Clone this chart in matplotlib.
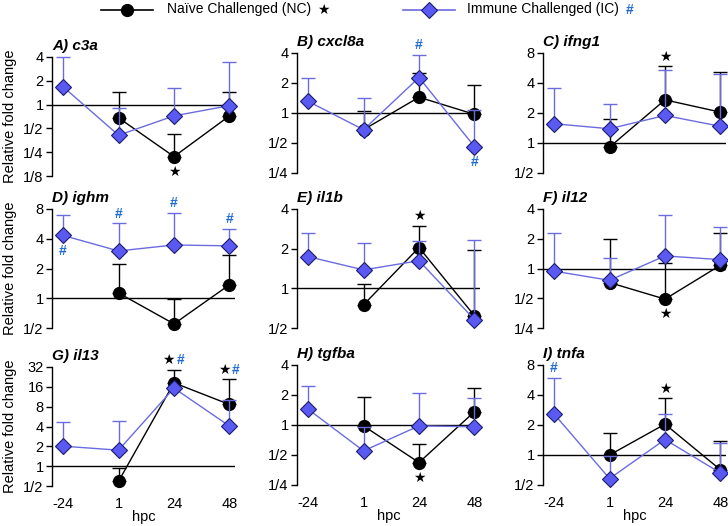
import matplotlib
matplotlib.use("Agg")
import matplotlib.pyplot as plt
from matplotlib.lines import Line2D
import numpy as np

plt.rcParams['font.family'] = ['Liberation Sans', 'DejaVu Sans']

# ---------------- data ----------------
times = ["-24", "1", "24", "48"]
genes = ["A) c3a", "B) cxcl8a", "C) ifng1",
         "D) ighm", "E) il1b", "F) il12",
         "G) il13", "H) tgfba", "I) tnfa"]

# fold change (NaN = no value); upper error bar tops
nc_c3a = [np.nan, 0.68, 0.22, 0.72];   nc_c3a_err = [np.nan, 1.43, 0.42, 1.43]
ic_c3a = [1.68, 0.41, 0.72, 0.97];     ic_c3a_err = [4.0, 0.91, 1.64, 3.46]

nc_cxcl8a = [np.nan, 0.68, 1.44, 0.97]; nc_cxcl8a_err = [np.nan, 1.05, 2.53, 1.92]
ic_cxcl8a = [1.31, 0.68, 2.27, 0.46];   ic_cxcl8a_err = [2.27, 1.42, 3.84, 1.06]

nc_ifng1 = [np.nan, 0.91, 2.71, 2.04];  nc_ifng1_err = [np.nan, 1.75, 5.9, 5.17]
ic_ifng1 = [1.56, 1.39, 1.89, 1.47];    ic_ifng1_err = [3.58, 2.45, 5.43, 4.96]

nc_ighm = [np.nan, 1.13, 0.55, 1.37];   nc_ighm_err = [np.nan, 2.22, 0.99, 2.73]
ic_ighm = [4.32, 3.01, 3.46, 3.39];     ic_ighm_err = [6.96, 5.74, 7.36, 5.03]

nc_il1b = [np.nan, 0.75, 2.04, 0.62];   nc_il1b_err = [np.nan, 1.08, 2.99, 1.96]
ic_il1b = [1.74, 1.38, 1.62, 0.58];     ic_il1b_err = [2.64, 2.2, 2.3, 2.33]

nc_il12 = [np.nan, 0.72, 0.49, 1.08];   nc_il12_err = [np.nan, 1.97, 1.13, 2.27]
ic_il12 = [0.94, 0.76, 1.34, 1.23];     ic_il12_err = [2.3, 1.27, 3.48, 2.64]

nc_il13 = [np.nan, 0.59, 18.4, 8.63];   nc_il13_err = [np.nan, 0.95, 29.2, 20.8]
ic_il13 = [2.01, 1.75, 15.3, 4.06];     ic_il13_err = [4.72, 4.89, 15.3, 9.99]

nc_tgfba = [np.nan, 0.98, 0.42, 1.36];  nc_tgfba_err = [np.nan, 1.92, 0.65, 2.33]
ic_tgfba = [1.44, 0.55, 0.98, 0.96];    ic_tgfba_err = [2.46, 0.96, 2.08, 1.88]

nc_tnfa = [np.nan, 1.0, 2.04, 0.71];    nc_tnfa_err = [np.nan, 1.67, 3.71, 1.39]
ic_tnfa = [2.58, 0.58, 1.43, 0.66];     ic_tnfa_err = [5.9, 0.97, 2.57, 1.33]

nc_all = [nc_c3a, nc_cxcl8a, nc_ifng1, nc_ighm, nc_il1b, nc_il12, nc_il13, nc_tgfba, nc_tnfa]
nc_err_all = [nc_c3a_err, nc_cxcl8a_err, nc_ifng1_err, nc_ighm_err, nc_il1b_err,
              nc_il12_err, nc_il13_err, nc_tgfba_err, nc_tnfa_err]
ic_all = [ic_c3a, ic_cxcl8a, ic_ifng1, ic_ighm, ic_il1b, ic_il12, ic_il13, ic_tgfba, ic_tnfa]
ic_err_all = [ic_c3a_err, ic_cxcl8a_err, ic_ifng1_err, ic_ighm_err, ic_il1b_err,
              ic_il12_err, ic_il13_err, ic_tgfba_err, ic_tnfa_err]

# y-range as log2 exponents
ylims = [(-3, 2), (-2, 2), (-1, 3), (-1, 3), (-1, 2), (-2, 2), (-1, 5), (-2, 2), (-1, 3)]

# significance marks: (panel, time index, series, symbol(s), where)
marks = [
    (0, 2, "NC", "star", "below"),
    (1, 2, "IC", "hash", "above"), (1, 3, "IC", "hash", "below"),
    (2, 2, "NC", "star", "above"),
    (3, 0, "IC", "hash", "below"), (3, 1, "IC", "hash", "above"),
    (3, 2, "IC", "hash", "above"), (3, 3, "IC", "hash", "above"),
    (4, 2, "NC", "star", "above"),
    (5, 2, "NC", "star", "below"),
    (6, 2, "NC", "both", "above"), (6, 3, "NC", "both", "above"),
    (7, 2, "NC", "star", "below"),
    (8, 0, "IC", "hash", "above"), (8, 2, "NC", "star", "above"),
]

# ---------------- style ----------------
W, H = 728, 526
col_left = [52, 297, 543]
ax_w = 183
rows_px = [[(57, 176), (53, 173), (53, 173)],
           [(209, 328), (209, 328), (209, 328)],
           [(367, 486), (365, 485), (365, 485)]]

ic_line = "#6b6be0"
ic_fill = "#5a5af2"
ic_edge = "#1c1c70"
hash_col = "#1f6ad6"


def label_for(e):
    if e >= 0:
        return str(2 ** e)
    return "1/" + str(2 ** (-e))


fig = plt.figure(figsize=(W / 100, H / 100), dpi=100)
x = np.arange(len(times))
axes = []
for i in range(9):
    r, c = divmod(i, 3)
    top, bot = rows_px[r][c]
    ax = fig.add_axes([col_left[c] / W, 1 - bot / H, ax_w / W, (bot - top) / H])
    axes.append(ax)
    ax.set_yscale('log', base=2)
    lo, hi = ylims[i]
    ax.set_ylim(2.0 ** lo, 2.0 ** hi)
    ax.set_xlim(-0.2, 3.1)
    ticks = list(range(lo, hi + 1))
    ax.set_yticks([2.0 ** t for t in ticks])
    ax.set_yticklabels([label_for(t) for t in ticks])
    ax.yaxis.set_minor_locator(matplotlib.ticker.NullLocator())
    ax.tick_params(axis='y', direction='out', length=4, width=1, pad=2, labelsize=10.5)
    for s in ['top', 'right', 'bottom']:
        ax.spines[s].set_visible(False)
    ax.spines['left'].set_linewidth(1)
    ax.axhline(1, color='black', lw=1, zorder=1)
    if r == 2:
        ax.set_xticks(x)
        ax.set_xticklabels(times)
        ax.tick_params(axis='x', length=0, pad=8, labelsize=10.5)
        ax.set_xlabel("hpc", fontsize=10.5, labelpad=-1)
    else:
        ax.set_xticks([])
    ax.set_facecolor('none')
    ax.text(0.0, 1.03, genes[i], transform=ax.transAxes, fontsize=11,
            fontweight='bold', fontstyle='italic', ha='left', va='bottom')

    nc = np.array(nc_all[i], float)
    nce = np.array(nc_err_all[i], float)
    ic = np.array(ic_all[i], float)
    ice = np.array(ic_err_all[i], float)

    # NC
    m = ~np.isnan(nc)
    ax.errorbar(x[m], nc[m], yerr=[np.zeros(m.sum()), nce[m] - nc[m]], fmt='none',
                ecolor='black', elinewidth=1, capsize=5, capthick=1, zorder=2, clip_on=False)
    ax.plot(x[m], nc[m], '-o', color='black', lw=1, ms=8.5, zorder=3, clip_on=False)
    # IC
    ax.errorbar(x, ic, yerr=[np.zeros(4), ice - ic], fmt='none',
                ecolor=ic_line, elinewidth=1, capsize=5, capthick=1, zorder=4, clip_on=False)
    ax.plot(x, ic, '-', color=ic_line, lw=1, zorder=4, clip_on=False)
    ax.plot(x, ic, 'D', mfc=ic_fill, mec=ic_edge, mew=0.8, ms=8, zorder=5, clip_on=False)

for (p, ti, ser, sym, where) in marks:
    ax = axes[p]
    if ser == "NC":
        val = nc_all[p][ti]; et = nc_err_all[p][ti]
    else:
        val = ic_all[p][ti]; et = ic_err_all[p][ti]
    if where == "above":
        yv, off = et, 7
    else:
        yv, off = val, -11
    if sym == "star":
        ax.annotate("★", (ti, yv), xytext=(0, off), textcoords='offset points',
                    ha='center', va='center', fontsize=10, color='black',
                    family=['DejaVu Sans'], annotation_clip=False)
    elif sym == "hash":
        ax.annotate("#", (ti, yv), xytext=(0, off), textcoords='offset points',
                    ha='center', va='center', fontsize=10, color=hash_col,
                    fontweight='bold', annotation_clip=False)
    else:
        ax.annotate("★", (ti, yv), xytext=(-4, off), textcoords='offset points',
                    ha='center', va='center', fontsize=10, color='black',
                    family=['DejaVu Sans'], annotation_clip=False)
        ax.annotate("#", (ti, yv), xytext=(4.5, off), textcoords='offset points',
                    ha='center', va='center', fontsize=10, color=hash_col,
                    fontweight='bold', annotation_clip=False)

# y labels per row
for r in range(3):
    top = rows_px[r][0][0]
    bot = rows_px[r][0][1]
    fig.text(10 / W, 1 - (top + bot) / 2 / H, "Relative fold change", rotation=90,
             ha='center', va='center', fontsize=10.5)

# legend
ly = 1 - 9.5 / H
fig.add_artist(Line2D([101 / W, 153 / W], [ly, ly], color='black', lw=1.2,
                      transform=fig.transFigure))
fig.add_artist(Line2D([127 / W], [ly], marker='o', color='black', ms=8.5,
                      transform=fig.transFigure))
fig.text(167 / W, ly, "Naïve Challenged (NC)", ha='left', va='center', fontsize=10)
fig.text(323 / W, ly, "★", ha='center', va='center', fontsize=10, family=['DejaVu Sans'])
fig.add_artist(Line2D([403 / W, 455 / W], [ly, ly], color=ic_line, lw=1.2,
                      transform=fig.transFigure))
fig.add_artist(Line2D([429 / W], [ly], marker='D', mfc=ic_fill, mec=ic_edge, mew=0.8,
                      ms=8, transform=fig.transFigure))
fig.text(467 / W, ly, "Immune Challenged (IC)", ha='left', va='center', fontsize=10)
fig.text(630 / W, ly, "#", ha='center', va='center', fontsize=10, color=hash_col,
         fontweight='bold')

fig.savefig("out.png", dpi=100)
